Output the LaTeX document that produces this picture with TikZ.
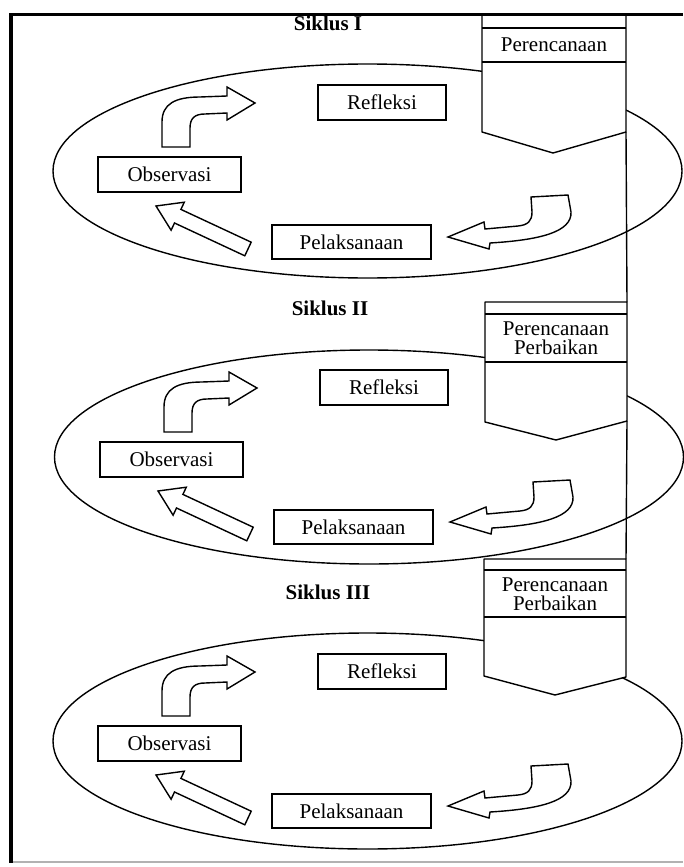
\documentclass[tikz,border=0pt]{standalone}
\usepackage{fontspec}
\setmainfont{Liberation Serif}
\begin{document}
\begin{tikzpicture}[x=1pt,y=-1pt,
  ln/.style={line width=1.4pt, line join=round},
  lbl/.style={draw, line width=1.4pt, inner sep=0pt, font=\fontsize{21}{19}\selectfont},
  ttl/.style={inner sep=0pt, font=\fontsize{21}{19}\selectfont\bfseries},
  ptxt/.style={align=center, inner sep=0pt, font=\fontsize{21}{19}\selectfont},
  blockarrow/.style={draw, line width=1.4pt, fill=white, line join=miter}]
\useasboundingbox (0,0) rectangle (683,867);
% ellipses
\draw[ln] (367.5,171) ellipse [x radius=314.5pt, y radius=107pt];
\draw[ln] (369,457) ellipse [x radius=314.5pt, y radius=107pt];
\draw[ln] (367.5,741) ellipse [x radius=314.5pt, y radius=108pt];
% cycles
\foreach \i/\dx/\dy/\lab in {1/0/0/I, 2/2/285/II, 3/0/569/III} {
 \begin{scope}[shift={(\dx,\dy)}]
   \node[ttl] (sik\i) at (328,23.5) {Siklus \lab};
   \node[lbl, minimum width=128pt, minimum height=35pt] (ref\i) at (382,102.5) {Refleksi};
   \node[lbl, minimum width=143pt, minimum height=35pt] (obs\i) at (169.5,174.5) {Observasi};
   \node[lbl, minimum width=159pt, minimum height=34pt] (pel\i) at (351.5,242) {Pelaksanaan};
   % curved arrow: Observasi -> Refleksi
   \draw[blockarrow] (162,147) -- (162,122) .. controls (162,104) and (175,97) .. (200,97)
     -- (227,96) -- (227,87) -- (255,103) -- (227,120) -- (227,113) -- (205,114)
     .. controls (195,114) and (190,118) .. (190,128) -- (190,147) -- cycle;
   % straight arrow: Pelaksanaan -> Observasi
   \draw[blockarrow] (156,206) -- (184.3,202.2) -- (180.9,209.4) -- (251.2,242.2)
     -- (244.8,255.8) -- (174.5,223.0) -- (171.1,230.2) -- cycle;
   % curved arrow: planning -> Pelaksanaan
   \draw[blockarrow] (448,237) -- (484,222) -- (485,229) -- (518,226)
     .. controls (528,225) and (532,221) .. (532,212) -- (531,197) -- (568,195) -- (571,212)
     .. controls (572,232) and (540,240) .. (490,243) -- (489,249) -- cycle;
 \end{scope}
}
% planning boxes
\draw[ln, fill=white] (482,15) -- (626,15) -- (626,132) -- (553,153) -- (482,132) -- cycle;
\draw[ln] (482,28) -- (626,28) (482,62) -- (626,62);
\node[ptxt] (plan1) at (554,45) {Perencanaan};
\draw[ln, fill=white] (485,302) -- (627,302) -- (627,421) -- (556,440) -- (485,422) -- cycle;
\draw[ln] (485,314) -- (627,314) (485,362) -- (627,362);
\node[ptxt] (plan2) at (556,338) {Perencanaan\\Perbaikan};
\draw[ln, fill=white] (484,559) -- (626,559) -- (626,677) -- (555,695) -- (484,676) -- cycle;
\draw[ln] (484,570) -- (626,570) (484,617) -- (626,617);
\node[ptxt] (plan3) at (555,594) {Perencanaan\\Perbaikan};
% connecting vertical lines
\coordinate (c1a) at (626,132); \coordinate (c1b) at (627,302);
\coordinate (c2a) at (627,421); \coordinate (c2b) at (626,559);
\draw[ln] (c1a) -- (c1b);
\draw[ln] (c2a) -- (c2b);
% frame
\draw[line width=3pt] (10,15) -- (683,15);
\draw[line width=4pt] (11,13.5) -- (11,863);
\draw[line width=1.5pt, gray!60] (13,862) -- (683,862);
\end{tikzpicture}
\end{document}
